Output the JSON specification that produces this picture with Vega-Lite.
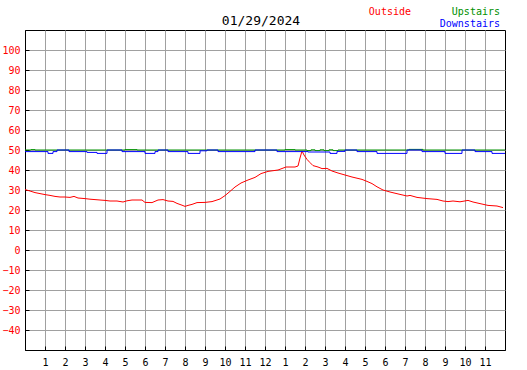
{
  "$schema": "https://vega.github.io/schema/vega-lite/v6.json",
  "width": 480,
  "height": 320,
  "autosize": {"type": "none"},
  "padding": {"left": 25, "top": 30, "right": 22, "bottom": 20},
  "background": "white",
  "config": {
    "font": "DejaVu Sans Mono",
    "view": {"stroke": "black", "strokeWidth": 1, "fill": "white"},
    "axis": {"gridColor": "#a0a0a0", "gridOpacity": 1, "gridWidth": 1, "domainColor": "black", "tickColor": "black", "tickSize": -4, "labelFont": "DejaVu Sans Mono", "labelFontSize": 10, "title": null}
  },
  "datasets": {
    "temps": [
    {"series": "Outside", "hour": 0, "temp": 30.2},
    {"series": "Outside", "hour": 0.25, "temp": 29.5},
    {"series": "Outside", "hour": 0.5, "temp": 28.7},
    {"series": "Outside", "hour": 0.75, "temp": 28.2},
    {"series": "Outside", "hour": 1.0, "temp": 27.7},
    {"series": "Outside", "hour": 1.25, "temp": 27.3},
    {"series": "Outside", "hour": 1.5, "temp": 26.8},
    {"series": "Outside", "hour": 1.75, "temp": 26.5},
    {"series": "Outside", "hour": 2.0, "temp": 26.5},
    {"series": "Outside", "hour": 2.25, "temp": 26.3},
    {"series": "Outside", "hour": 2.45, "temp": 26.8},
    {"series": "Outside", "hour": 2.65, "temp": 26.0},
    {"series": "Outside", "hour": 3.0, "temp": 25.7},
    {"series": "Outside", "hour": 3.25, "temp": 25.4},
    {"series": "Outside", "hour": 3.5, "temp": 25.2},
    {"series": "Outside", "hour": 3.75, "temp": 25.0},
    {"series": "Outside", "hour": 4.0, "temp": 24.8},
    {"series": "Outside", "hour": 4.25, "temp": 24.5},
    {"series": "Outside", "hour": 4.6, "temp": 24.5},
    {"series": "Outside", "hour": 4.9, "temp": 24.0},
    {"series": "Outside", "hour": 5.1, "temp": 24.6},
    {"series": "Outside", "hour": 5.35, "temp": 25.0},
    {"series": "Outside", "hour": 5.85, "temp": 25.0},
    {"series": "Outside", "hour": 6.0, "temp": 23.8},
    {"series": "Outside", "hour": 6.35, "temp": 23.7},
    {"series": "Outside", "hour": 6.65, "temp": 25.0},
    {"series": "Outside", "hour": 6.9, "temp": 25.2},
    {"series": "Outside", "hour": 7.15, "temp": 24.5},
    {"series": "Outside", "hour": 7.4, "temp": 24.3},
    {"series": "Outside", "hour": 7.6, "temp": 23.3},
    {"series": "Outside", "hour": 7.85, "temp": 22.4},
    {"series": "Outside", "hour": 8.0, "temp": 21.8},
    {"series": "Outside", "hour": 8.15, "temp": 22.3},
    {"series": "Outside", "hour": 8.35, "temp": 22.8},
    {"series": "Outside", "hour": 8.6, "temp": 23.7},
    {"series": "Outside", "hour": 9.0, "temp": 23.8},
    {"series": "Outside", "hour": 9.35, "temp": 24.2},
    {"series": "Outside", "hour": 9.75, "temp": 25.5},
    {"series": "Outside", "hour": 10.0, "temp": 27.2},
    {"series": "Outside", "hour": 10.25, "temp": 29.3},
    {"series": "Outside", "hour": 10.5, "temp": 31.5},
    {"series": "Outside", "hour": 10.8, "temp": 33.5},
    {"series": "Outside", "hour": 11.15, "temp": 35.0},
    {"series": "Outside", "hour": 11.5, "temp": 36.3},
    {"series": "Outside", "hour": 11.8, "temp": 38.2},
    {"series": "Outside", "hour": 12.15, "temp": 39.3},
    {"series": "Outside", "hour": 12.65, "temp": 40.0},
    {"series": "Outside", "hour": 13.05, "temp": 41.5},
    {"series": "Outside", "hour": 13.5, "temp": 41.5},
    {"series": "Outside", "hour": 13.65, "temp": 42.0},
    {"series": "Outside", "hour": 13.75, "temp": 46.0},
    {"series": "Outside", "hour": 13.85, "temp": 49.5},
    {"series": "Outside", "hour": 13.95, "temp": 47.5},
    {"series": "Outside", "hour": 14.1, "temp": 45.3},
    {"series": "Outside", "hour": 14.25, "temp": 43.7},
    {"series": "Outside", "hour": 14.4, "temp": 42.2},
    {"series": "Outside", "hour": 14.65, "temp": 41.5},
    {"series": "Outside", "hour": 14.85, "temp": 40.7},
    {"series": "Outside", "hour": 15.1, "temp": 40.8},
    {"series": "Outside", "hour": 15.35, "temp": 39.5},
    {"series": "Outside", "hour": 15.65, "temp": 38.5},
    {"series": "Outside", "hour": 16.0, "temp": 37.5},
    {"series": "Outside", "hour": 16.35, "temp": 36.5},
    {"series": "Outside", "hour": 16.85, "temp": 35.3},
    {"series": "Outside", "hour": 17.1, "temp": 34.3},
    {"series": "Outside", "hour": 17.35, "temp": 33.2},
    {"series": "Outside", "hour": 17.6, "temp": 31.6},
    {"series": "Outside", "hour": 17.9, "temp": 30.0},
    {"series": "Outside", "hour": 18.25, "temp": 29.0},
    {"series": "Outside", "hour": 18.75, "temp": 27.8},
    {"series": "Outside", "hour": 19.1, "temp": 27.0},
    {"series": "Outside", "hour": 19.25, "temp": 27.3},
    {"series": "Outside", "hour": 19.6, "temp": 26.3},
    {"series": "Outside", "hour": 20.1, "temp": 25.7},
    {"series": "Outside", "hour": 20.6, "temp": 25.3},
    {"series": "Outside", "hour": 20.9, "temp": 24.5},
    {"series": "Outside", "hour": 21.15, "temp": 24.2},
    {"series": "Outside", "hour": 21.4, "temp": 24.5},
    {"series": "Outside", "hour": 21.75, "temp": 24.1},
    {"series": "Outside", "hour": 22.15, "temp": 24.8},
    {"series": "Outside", "hour": 22.4, "temp": 24.0},
    {"series": "Outside", "hour": 22.75, "temp": 23.2},
    {"series": "Outside", "hour": 23.15, "temp": 22.3},
    {"series": "Outside", "hour": 23.6, "temp": 22.0},
    {"series": "Outside", "hour": 23.9, "temp": 21.2},
    {"series": "Upstairs", "hour": 0, "temp": 50.0},
    {"series": "Upstairs", "hour": 0.3, "temp": 50.2},
    {"series": "Upstairs", "hour": 0.5, "temp": 50.0},
    {"series": "Upstairs", "hour": 5.0, "temp": 50.2},
    {"series": "Upstairs", "hour": 5.6, "temp": 50.0},
    {"series": "Upstairs", "hour": 13.0, "temp": 50.2},
    {"series": "Upstairs", "hour": 13.5, "temp": 50.0},
    {"series": "Upstairs", "hour": 14.1, "temp": 49.7},
    {"series": "Upstairs", "hour": 14.3, "temp": 50.1},
    {"series": "Upstairs", "hour": 14.5, "temp": 49.7},
    {"series": "Upstairs", "hour": 14.75, "temp": 50.1},
    {"series": "Upstairs", "hour": 14.95, "temp": 49.7},
    {"series": "Upstairs", "hour": 15.2, "temp": 50.1},
    {"series": "Upstairs", "hour": 15.4, "temp": 49.7},
    {"series": "Upstairs", "hour": 15.65, "temp": 50.0},
    {"series": "Upstairs", "hour": 19.2, "temp": 50.3},
    {"series": "Upstairs", "hour": 19.9, "temp": 50.0},
    {"series": "Upstairs", "hour": 24, "temp": 50.0},
    {"series": "Downstairs", "hour": 0, "temp": 49.2},
    {"series": "Downstairs", "hour": 1.15, "temp": 48.3},
    {"series": "Downstairs", "hour": 1.4, "temp": 49.2},
    {"series": "Downstairs", "hour": 1.6, "temp": 50.0},
    {"series": "Downstairs", "hour": 2.2, "temp": 49.2},
    {"series": "Downstairs", "hour": 3.1, "temp": 48.8},
    {"series": "Downstairs", "hour": 3.6, "temp": 48.3},
    {"series": "Downstairs", "hour": 4.1, "temp": 50.0},
    {"series": "Downstairs", "hour": 4.85, "temp": 49.2},
    {"series": "Downstairs", "hour": 6.0, "temp": 48.3},
    {"series": "Downstairs", "hour": 6.5, "temp": 49.2},
    {"series": "Downstairs", "hour": 6.65, "temp": 50.0},
    {"series": "Downstairs", "hour": 7.15, "temp": 49.2},
    {"series": "Downstairs", "hour": 8.15, "temp": 48.3},
    {"series": "Downstairs", "hour": 8.75, "temp": 49.6},
    {"series": "Downstairs", "hour": 9.1, "temp": 50.0},
    {"series": "Downstairs", "hour": 9.65, "temp": 49.2},
    {"series": "Downstairs", "hour": 11.5, "temp": 50.0},
    {"series": "Downstairs", "hour": 12.6, "temp": 49.2},
    {"series": "Downstairs", "hour": 14.15, "temp": 49.0},
    {"series": "Downstairs", "hour": 15.25, "temp": 48.3},
    {"series": "Downstairs", "hour": 15.6, "temp": 49.3},
    {"series": "Downstairs", "hour": 16.0, "temp": 50.0},
    {"series": "Downstairs", "hour": 16.6, "temp": 49.2},
    {"series": "Downstairs", "hour": 17.6, "temp": 48.3},
    {"series": "Downstairs", "hour": 19.1, "temp": 50.0},
    {"series": "Downstairs", "hour": 19.85, "temp": 49.2},
    {"series": "Downstairs", "hour": 21.0, "temp": 48.3},
    {"series": "Downstairs", "hour": 21.85, "temp": 50.0},
    {"series": "Downstairs", "hour": 22.5, "temp": 49.2},
    {"series": "Downstairs", "hour": 23.35, "temp": 48.3},
    {"series": "Downstairs", "hour": 24, "temp": 48.3}
    ],
    "labels": [
      {"label": "Outside"},
      {"label": "Upstairs"},
      {"label": "Downstairs"}
    ],
    "heading": [
      {"label": "01/29/2024"}
    ]
  },
  "data": {"name": "temps"},
  "encoding": {
    "x": {"field": "hour", "type": "quantitative", "scale": {"domain": [0, 24], "nice": false, "zero": false},
      "axis": {"values": [1,2,3,4,5,6,7,8,9,10,11,12,13,14,15,16,17,18,19,20,21,22,23], "labelExpr": "datum.value > 12 ? datum.value - 12 : datum.value", "labelColor": "black", "labelPadding": 11, "grid": true}},
    "y": {"field": "temp", "type": "quantitative", "scale": {"domain": [-50, 110], "nice": false, "zero": false},
      "axis": {"values": [-40,-30,-20,-10,0,10,20,30,40,50,60,70,80,90,100], "labelColor": "#ff0000", "labelPadding": 9, "grid": true}}
  },
  "layer": [
    {"transform": [{"filter": "datum.series == 'Outside'"}], "mark": {"type": "line", "color": "#ff0000", "strokeWidth": 1}},
    {"transform": [{"filter": "datum.series == 'Upstairs'"}], "mark": {"type": "line", "color": "#009000", "strokeWidth": 1, "interpolate": "step-after"}},
    {"transform": [{"filter": "datum.series == 'Downstairs'"}], "mark": {"type": "line", "color": "#0000ff", "strokeWidth": 1, "interpolate": "step-after"}},
    {"data": {"name": "heading"},
      "transform": [{"calculate": "11.8", "as": "lx"}, {"calculate": "112.5", "as": "ly"}],
      "mark": {"type": "text", "fontSize": 13, "fontWeight": "normal", "font": "DejaVu Sans Mono", "baseline": "alphabetic", "align": "center", "color": "black"},
      "encoding": {
        "text": {"field": "label", "type": "nominal"},
        "x": {"field": "lx", "type": "quantitative",
          "axis": {"values": [1,2,3,4,5,6,7,8,9,10,11,12,13,14,15,16,17,18,19,20,21,22,23], "labelExpr": "datum.value > 12 ? datum.value - 12 : datum.value", "labelColor": "black", "labelPadding": 11, "grid": true}},
        "y": {"field": "ly", "type": "quantitative",
          "axis": {"values": [-40,-30,-20,-10,0,10,20,30,40,50,60,70,80,90,100], "labelColor": "#ff0000", "labelPadding": 9, "grid": true}}
      }},
    {"data": {"name": "labels"},
      "transform": [{"calculate": "datum.label == 'Outside' ? 19.3 : 23.75", "as": "lx"}, {"calculate": "datum.label == 'Downstairs' ? 111.5 : 117.5", "as": "ly"}],
      "mark": {"type": "text", "fontSize": 10, "font": "DejaVu Sans Mono", "baseline": "alphabetic", "align": "right"},
      "encoding": {
        "text": {"field": "label", "type": "nominal"},
        "x": {"field": "lx", "type": "quantitative",
          "axis": {"values": [1,2,3,4,5,6,7,8,9,10,11,12,13,14,15,16,17,18,19,20,21,22,23], "labelExpr": "datum.value > 12 ? datum.value - 12 : datum.value", "labelColor": "black", "labelPadding": 11, "grid": true}},
        "y": {"field": "ly", "type": "quantitative",
          "axis": {"values": [-40,-30,-20,-10,0,10,20,30,40,50,60,70,80,90,100], "labelColor": "#ff0000", "labelPadding": 9, "grid": true}},
        "color": {"field": "label", "type": "nominal", "scale": {"domain": ["Outside", "Upstairs", "Downstairs"], "range": ["#ff0000", "#009000", "#0000ff"]}, "legend": null}
      }}
  ]
}
